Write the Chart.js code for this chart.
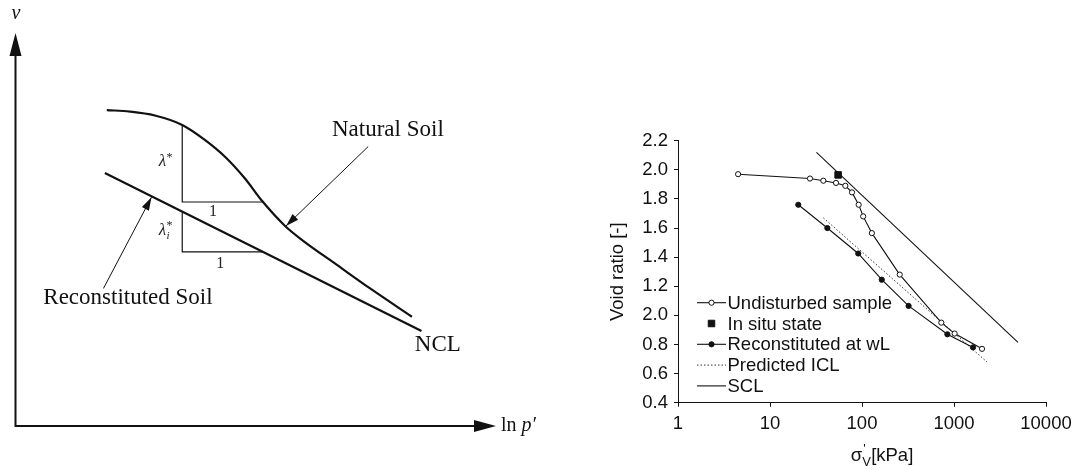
<!DOCTYPE html>
<html>
<head>
<meta charset="utf-8">
<script src="https://cdn.jsdelivr.net/npm/chart.js@4.4.1/dist/chart.umd.min.js"></script>
<style>
  html, body { margin: 0; padding: 0; background: #fff; }
  #wrap { position: relative; width: 1089px; height: 470px; overflow: hidden; background: #fff; }
  #schema { position: absolute; left: 0; top: 0; }
  #curve { position: absolute; left: 560px; top: 0; }
</style>
</head>
<body>
<div id="wrap">
  <canvas id="schema" width="560" height="470"></canvas>
  <canvas id="curve" width="529" height="470"></canvas>
</div>
<script>
// ---------- Left: schematic v – ln p' plane (arbitrary units, 0–10 on both axes) ----------
const naturalX = [1.90, 2.38, 2.90, 3.47, 3.94, 4.36, 4.78, 5.13, 5.61, 5.98, 6.69, 7.38, 8.25];
const naturalY = [8.04, 8.00, 7.90, 7.66, 7.28, 6.85, 6.29, 5.73, 5.09, 4.72, 4.10, 3.50, 2.78];
const nclX = [1.86, 8.45];
const nclY = [6.44, 2.42];
const slopeNatX = [3.47, 3.47, 5.15];
const slopeNatY = [7.66, 5.70, 5.70];
const slopeRecX = [3.47, 3.47, 5.15];
const slopeRecY = [5.46, 4.43, 4.43];
// leader arrows: [fromX, fromY, toX, toY]
const naturalArrow = [7.34, 7.11, 5.63, 5.09];
const reconArrow = [1.83, 3.50, 2.83, 5.82];

// ---------- Right: oedometer curves, void ratio vs vertical effective stress ----------
const undisturbedStress = [4.5, 27.2, 38, 52.2, 65.9, 77.9, 92, 103, 128, 257, 728, 1016, 2016];
const undisturbedVoid = [1.97, 1.94, 1.925, 1.91, 1.89, 1.845, 1.76, 1.68, 1.565, 1.28, 0.95, 0.875, 0.77];
const inSituStress = [55];
const inSituVoid = [1.965];
const reconStress = [20.3, 42, 91, 164, 321, 847, 1610];
const reconVoid = [1.76, 1.60, 1.425, 1.245, 1.065, 0.87, 0.78];
const iclStress = [38, 2280];
const iclVoid = [1.67, 0.68];
const sclStress = [32, 4960];
const sclVoid = [2.12, 0.815];

const xTickValues = [1, 10, 100, 1000, 10000];
const xTickLabels = ['1', '10', '100', '1000', '10000'];
const yTickLabels = ['0.4', '0.6', '0.8', '2.0', '1.2', '1.4', '1.6', '1.8', '2.0', '2.2'];

const zip = (xs, ys) => xs.map((x, i) => ({ x: x, y: ys[i] }));
const INK = '#111';
const SERIF = '"Liberation Serif", "Times New Roman", serif';
const SANS = '"Liberation Sans", Arial, Helvetica, sans-serif';

function arrowHead(ctx, x1, y1, x2, y2, len, half) {
  const a = Math.atan2(y2 - y1, x2 - x1);
  const bx = x2 - len * Math.cos(a), by = y2 - len * Math.sin(a);
  ctx.beginPath();
  ctx.moveTo(x2, y2);
  ctx.lineTo(bx + half * Math.sin(a), by - half * Math.cos(a));
  ctx.lineTo(bx - half * Math.sin(a), by + half * Math.cos(a));
  ctx.closePath();
  ctx.fill();
}

function drawLambda(ctx, xRight, yMid, withSub) {
  ctx.save();
  ctx.fillStyle = '#222';
  ctx.textBaseline = 'middle';
  ctx.textAlign = 'left';
  ctx.font = 'italic 17px ' + SERIF;
  const wl = ctx.measureText('λ').width;
  const x0 = xRight - wl - 7;
  ctx.fillText('λ', x0, yMid);
  ctx.font = '12px ' + SERIF;
  ctx.fillText('*', x0 + wl + 0.5, yMid - 4);
  if (withSub) {
    ctx.font = 'italic 11px ' + SERIF;
    ctx.fillText('i', x0 + wl + 0.5, yMid + 6);
  }
  ctx.restore();
}

const schemaDecor = {
  id: 'schemaDecor',
  afterDatasetsDraw(chart) {
    const ctx = chart.ctx;
    const sx = chart.scales.x, sy = chart.scales.y;
    const px = v => sx.getPixelForValue(v);
    const py = v => sy.getPixelForValue(v);
    ctx.save();
    ctx.fillStyle = INK;
    ctx.strokeStyle = INK;

    // axes with arrow heads
    const ox = px(0), oy = py(0), tipY = py(10), tipX = px(10);
    ctx.lineWidth = 2;
    ctx.beginPath();
    ctx.moveTo(ox, oy + 1);
    ctx.lineTo(ox, tipY + 10);
    ctx.moveTo(ox - 1, oy);
    ctx.lineTo(tipX - 10, oy);
    ctx.stroke();
    arrowHead(ctx, ox, oy, ox, tipY, 23, 6);
    arrowHead(ctx, ox, oy, tipX, oy, 22, 6);

    // leader arrows
    ctx.lineWidth = 1;
    [naturalArrow, reconArrow].forEach(a => {
      const x1 = px(a[0]), y1 = py(a[1]), x2 = px(a[2]), y2 = py(a[3]);
      ctx.beginPath();
      ctx.moveTo(x1, y1);
      ctx.lineTo(x2, y2);
      ctx.stroke();
      arrowHead(ctx, x1, y1, x2, y2, 13, 4);
    });

    // curve labels
    ctx.font = '23px ' + SERIF;
    ctx.textBaseline = 'middle';
    ctx.textAlign = 'center';
    ctx.fillText('Natural Soil', px(7.75), py(7.53));
    ctx.fillText('Reconstituted Soil', px(2.34), py(3.26));
    ctx.fillText('NCL', px(8.79), py(2.06));

    // slope triangle labels
    drawLambda(ctx, px(3.28), py(6.72), false);
    drawLambda(ctx, px(3.28), py(4.98), true);
    ctx.font = '16px ' + SERIF;
    ctx.fillStyle = '#222';
    ctx.fillText('1', px(4.11), py(5.45));
    ctx.fillText('1', px(4.26), py(4.12));

    // axis names
    ctx.fillStyle = INK;
    ctx.font = 'italic 20px ' + SERIF;
    ctx.fillText('v', px(0.01), 14);
    ctx.textAlign = 'left';
    ctx.font = '20px ' + SERIF;
    const lx = tipX + 5;
    ctx.fillText('ln', lx, oy);
    const wln = ctx.measureText('ln ').width;
    ctx.font = 'italic 20px ' + SERIF;
    ctx.fillText('p′', lx + wln, oy);
    ctx.restore();
  }
};

new Chart(document.getElementById('schema'), {
  type: 'scatter',
  data: {
    datasets: [
      { label: 'Natural Soil', data: zip(naturalX, naturalY), showLine: true, borderColor: INK, borderWidth: 2.2, pointRadius: 0, cubicInterpolationMode: 'monotone' },
      { label: 'NCL', data: zip(nclX, nclY), showLine: true, borderColor: INK, borderWidth: 2.2, pointRadius: 0 },
      { label: 'λ*', data: zip(slopeNatX, slopeNatY), showLine: true, borderColor: INK, borderWidth: 1.2, pointRadius: 0 },
      { label: 'λi*', data: zip(slopeRecX, slopeRecY), showLine: true, borderColor: INK, borderWidth: 1.2, pointRadius: 0 }
    ]
  },
  options: {
    responsive: false,
    animation: false,
    events: [],
    layout: { padding: { left: 15.5, right: 64, top: 33, bottom: 44 } },
    plugins: { legend: { display: false }, tooltip: { enabled: false } },
    scales: {
      x: { type: 'linear', min: 0, max: 10, display: false },
      y: { type: 'linear', min: 0, max: 10, display: false }
    }
  },
  plugins: [schemaDecor]
});

// ---------- Right chart ----------
const curveLegend = {
  id: 'curveLegend',
  afterDatasetsDraw(chart) {
    const ctx = chart.ctx;
    const left = chart.chartArea.left + 19, top = 302.7, gap = 20.8, lineLen = 29;
    ctx.save();
    chart.data.datasets.forEach((ds, i) => {
      const y = top + i * gap;
      const cx = left + lineLen / 2;
      ctx.strokeStyle = ds.borderColor;
      ctx.lineWidth = ds.borderWidth;
      if (ds.showLine !== false) {
        ctx.setLineDash(ds.borderDash || []);
        ctx.beginPath();
        ctx.moveTo(left, y);
        ctx.lineTo(left + lineLen, y);
        ctx.stroke();
        ctx.setLineDash([]);
      }
      if (ds.pointRadius > 0) {
        ctx.fillStyle = ds.pointBackgroundColor;
        ctx.strokeStyle = ds.pointBorderColor;
        ctx.lineWidth = ds.pointBorderWidth;
        ctx.beginPath();
        if (ds.pointStyle === 'rect') {
          const h = ds.pointRadius * Math.SQRT1_2;
          ctx.rect(cx - h, y - h, 2 * h, 2 * h);
        } else {
          ctx.arc(cx, y, ds.pointRadius, 0, Math.PI * 2);
        }
        ctx.fill();
        ctx.stroke();
      }
      ctx.fillStyle = INK;
      ctx.font = '18.5px ' + SANS;
      ctx.textAlign = 'left';
      ctx.textBaseline = 'middle';
      ctx.fillText(ds.label, left + lineLen + 1.5, y + 1);
    });

    // x-axis title: σ'V [kPa]
    const xs = chart.scales.x;
    const cx = (xs.left + xs.right) / 2 + 20;
    const base = 461;
    ctx.fillStyle = INK;
    ctx.textBaseline = 'alphabetic';
    ctx.font = '18.5px ' + SANS;
    const wSig = ctx.measureText('σ').width;
    const wUnit = ctx.measureText('[kPa]').width;
    const total = wSig + 9 + wUnit;
    let x = cx - total / 2;
    ctx.fillText('σ', x, base);
    ctx.font = '13px ' + SANS;
    ctx.fillText("'", x + wSig + 1, base - 8);
    ctx.fillText('V', x + wSig, base + 5);
    ctx.font = '18.5px ' + SANS;
    ctx.fillText('[kPa]', x + wSig + 9, base);
    ctx.restore();
  }
};

new Chart(document.getElementById('curve'), {
  type: 'scatter',
  data: {
    datasets: [
      { label: 'Undisturbed sample', data: zip(undisturbedStress, undisturbedVoid), showLine: true, borderColor: INK, borderWidth: 1.1,
        pointStyle: 'circle', pointRadius: 2.6, pointBackgroundColor: '#fff', pointBorderColor: INK, pointBorderWidth: 1 },
      { label: 'In situ state', data: zip(inSituStress, inSituVoid), showLine: false, borderColor: INK, borderWidth: 1,
        pointStyle: 'rect', pointRadius: 4.6, pointBackgroundColor: INK, pointBorderColor: INK, pointBorderWidth: 1 },
      { label: 'Reconstituted at wL', data: zip(reconStress, reconVoid), showLine: true, borderColor: INK, borderWidth: 1.1,
        pointStyle: 'circle', pointRadius: 2.6, pointBackgroundColor: INK, pointBorderColor: INK, pointBorderWidth: 1 },
      { label: 'Predicted ICL', data: zip(iclStress, iclVoid), showLine: true, borderColor: '#333', borderWidth: 1, borderDash: [1.5, 2],
        pointRadius: 0 },
      { label: 'SCL', data: zip(sclStress, sclVoid), showLine: true, borderColor: INK, borderWidth: 1.1, pointRadius: 0 }
    ]
  },
  options: {
    responsive: false,
    animation: false,
    events: [],
    layout: { padding: { left: 0, right: 43, top: 140.7, bottom: 0 } },
    plugins: { legend: { display: false }, tooltip: { enabled: false } },
    scales: {
      x: {
        type: 'logarithmic', min: 1, max: 10000,
        afterBuildTicks: s => { s.ticks = xTickValues.map(v => ({ value: v, major: true })); },
        afterFit: s => { s.height = 67.3; },
        grid: { drawOnChartArea: false, drawTicks: true, tickLength: 4, color: INK },
        border: { display: true, color: INK, width: 1 },
        ticks: { color: INK, font: { family: SANS, size: 18.5 }, padding: 6, maxRotation: 0, autoSkip: false,
                 callback: (v, i) => xTickLabels[i] }
      },
      y: {
        type: 'linear', min: 0.4, max: 2.2,
        afterFit: s => { s.width = 118; },
        grid: { drawOnChartArea: false, drawTicks: true, tickLength: 4, color: INK },
        border: { display: true, color: INK, width: 1 },
        ticks: { stepSize: 0.2, color: INK, font: { family: SANS, size: 18.5 }, padding: 6,
                 callback: (v, i) => yTickLabels[i] },
        title: { display: true, text: 'Void ratio [-]', color: INK, font: { family: SANS, size: 18.5 }, padding: { top: 47 } }
      }
    }
  },
  plugins: [curveLegend]
});
</script>
</body>
</html>
